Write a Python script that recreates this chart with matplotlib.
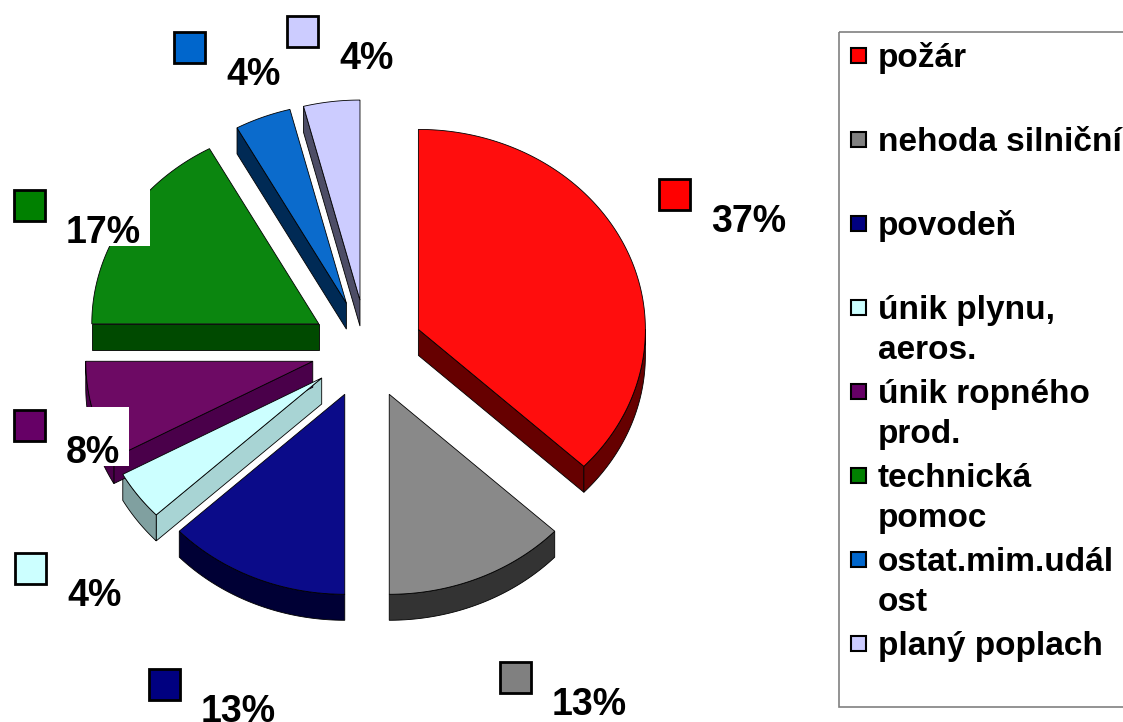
import numpy as np
import matplotlib
matplotlib.use('Agg')
import matplotlib.pyplot as plt
from matplotlib.patches import Polygon, Rectangle

plt.rcParams['font.family'] = ['Liberation Sans', 'DejaVu Sans']
plt.rcParams['font.weight'] = 'bold'

# data
categories = ['požár', 'nehoda silniční', 'povodeň', 'únik plynu,\naeros.',
              'únik ropného\nprod.', 'technická\npomoc', 'ostat.mim.udál\nost',
              'planý poplach']
percent = [37, 13, 13, 4, 8, 17, 4, 4]

# styles
top_colors = ['#FF0D0D', '#898989', '#0B0B89', '#CCFFFF', '#6D0A64', '#0B860F', '#0B6BCC', '#CCCCFF']
wall_colors = ['#660000', '#333333', '#000035', '#A8D4D4', '#4A004A', '#004A00', '#002A55', '#4D4D66']
rim_colors = ['#660000', '#333333', '#000035', '#80A0A0', '#4A004A', '#004A00', '#002A55', '#4D4D66']
key_colors = ['#FF0000', '#808080', '#000080', '#CCFFFF', '#660066', '#008000', '#0066CC', '#CCCCFF']
# label key positions (top-left, pixels)
label_pos = [(659, 179), (500, 662), (149, 669), (15, 553), (14, 410), (14, 190), (174, 32), (287, 16)]

W, H = 1123, 722
fig = plt.figure(figsize=(W / 100, H / 100), dpi=100)
ax = fig.add_axes([0, 0, 1, 1])
ax.set_xlim(0, W)
ax.set_ylim(H, 0)
ax.axis('off')

cx, cy = 367, 349
rx, ry = 227, 200
depth = 26
explode = 56


def rim(ox, oy, t):
    return ox + rx * np.cos(np.radians(t)), oy - ry * np.sin(np.radians(t))


start = 90.0
for i, p in enumerate(percent):
    t1 = start
    t2 = start - p * 3.6
    start = t2
    m = np.radians((t1 + t2) / 2)
    ox = cx + explode * np.cos(m)
    oy = cy - explode * (ry / rx) * np.sin(m)

    # radial walls facing the viewer
    for t, vis in [(t1, np.cos(np.radians(t1)) < -1e-6), (t2, np.cos(np.radians(t2)) > 1e-6)]:
        if vis:
            x, y = rim(ox, oy, t)
            pts = [(ox, oy), (x, y), (x, y + depth), (ox, oy + depth)]
            ax.add_patch(Polygon(pts, closed=True, facecolor=wall_colors[i],
                                 edgecolor='black', linewidth=0.6, zorder=2))
    # outer rim wall (front half only)
    a, b = max(t2, -180), min(t1, 0)
    if b > a:
        ts = np.linspace(a, b, 60)
        xs, ys = rim(ox, oy, ts)
        pts = list(zip(xs, ys)) + list(zip(xs[::-1], ys[::-1] + depth))
        ax.add_patch(Polygon(pts, closed=True, facecolor=rim_colors[i],
                             edgecolor='black', linewidth=0.6, zorder=2))
    # top face
    ts = np.linspace(t1, t2, 120)
    xs, ys = rim(ox, oy, ts)
    pts = [(ox, oy)] + list(zip(xs, ys))
    ax.add_patch(Polygon(pts, closed=True, facecolor=top_colors[i],
                         edgecolor='black', linewidth=0.6, zorder=3))

# data labels with legend keys
fig.canvas.draw()
renderer = fig.canvas.get_renderer()
for i, p in enumerate(percent):
    kx, ky = label_pos[i]
    t = ax.text(kx + 52, ky + 53, f'{p}%', fontsize=27, fontweight='bold',
                ha='left', va='baseline', zorder=7)
    bb = t.get_window_extent(renderer)
    ax.add_patch(Rectangle((kx - 3, ky - 3), kx + 52 + bb.width + 9 - (kx - 3), 53 + 6,
                           facecolor='white', edgecolor='none', zorder=5))
    ax.add_patch(Rectangle((kx, ky), 31, 31, facecolor=key_colors[i],
                           edgecolor='black', linewidth=2, zorder=6))

# legend
ax.add_patch(Rectangle((839, 32), 400, 675, facecolor='none', edgecolor='#808080',
                       linewidth=1.2, zorder=4))
for i, name in enumerate(categories):
    base = 67 + 84 * i
    ax.add_patch(Rectangle((851, base - 19), 15, 15, facecolor=key_colors[i],
                           edgecolor='black', linewidth=1.5, zorder=6))
    for j, line in enumerate(name.split('\n')):
        ax.text(878, base + 40 * j, line, fontsize=24, fontweight='bold',
                ha='left', va='baseline', zorder=7)

fig.savefig('out.png', dpi=100)
